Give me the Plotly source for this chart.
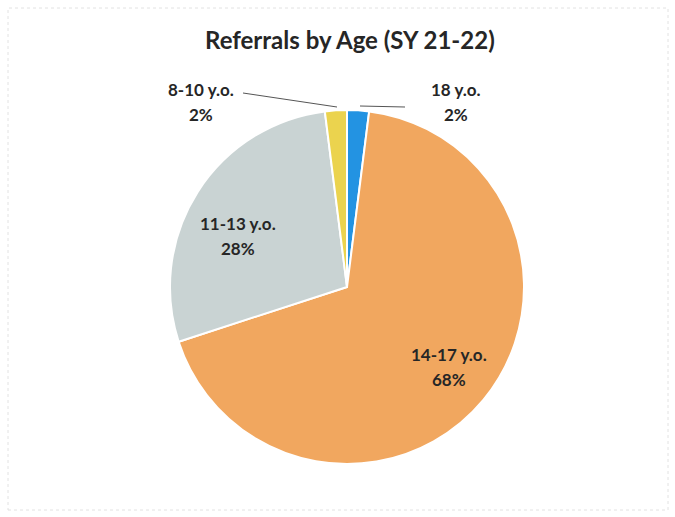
import plotly.graph_objects as go

# Referral counts by age group, school year 21-22 (percent of total)
age_groups = ["18 y.o.", "14-17 y.o.", "11-13 y.o.", "8-10 y.o."]
shares = [2, 68, 28, 2]
slice_colors = ["#2393E2", "#F1A75F", "#C9D3D3", "#EBD34E"]

W, H = 675, 517
CX, CY, R = 347, 287, 177  # pie centre and radius in pixels


def px(x):
    return x / W


def py(y):
    return 1 - y / H


fig = go.Figure(
    go.Pie(
        labels=age_groups,
        values=shares,
        sort=False,
        direction="clockwise",
        rotation=0,
        marker=dict(colors=slice_colors, line=dict(color="white", width=2)),
        textinfo="none",
        hoverinfo="label+percent",
        domain=dict(x=[px(CX - R), px(CX + R)], y=[py(CY + R), py(CY - R)]),
        showlegend=False,
    )
)

# Label anchor points (pixel centre of each two-line label)
label_xy = {
    "18 y.o.": (456, 102),
    "14-17 y.o.": (449, 367),
    "11-13 y.o.": (238, 236),
    "8-10 y.o.": (201, 102),
}
LINE_GAP = 25
label_font = dict(family="Lato", size=17, color="#262626")

total = sum(shares)
annotations = []
for name, val in zip(age_groups, shares):
    x, y = label_xy[name]
    for text, dy in ((name, -LINE_GAP / 2), (f"{round(100 * val / total)}%", LINE_GAP / 2)):
        annotations.append(
            dict(
                x=px(x), y=py(y + dy), xref="paper", yref="paper",
                text=f"<b>{text}</b>",
                showarrow=False, xanchor="center", yanchor="middle",
                font=label_font,
            )
        )

annotations.append(
    dict(
        x=px(350), y=py(40), xref="paper", yref="paper",
        text="<b>Referrals by Age (SY 21-22)</b>", showarrow=False,
        xanchor="center", yanchor="middle",
        font=dict(family="Lato", size=24, color="#262626"),
    )
)

# Leader lines for the two small outer labels
leaders = [
    ((360, 106), (405, 107)),
    ((337, 107), (243, 93)),
]
shapes = [
    dict(type="line", xref="paper", yref="paper",
         x0=px(a[0]), y0=py(a[1]), x1=px(b[0]), y1=py(b[1]),
         line=dict(color="#555555", width=1))
    for a, b in leaders
]
# Faint chart-area frame
shapes.append(
    dict(type="rect", xref="paper", yref="paper",
         x0=px(8), y0=py(510), x1=px(668), y1=py(8),
         line=dict(color="#e2e2e2", width=1, dash="dot"))
)

fig.update_layout(
    width=W, height=H,
    margin=dict(l=0, r=0, t=0, b=0),
    paper_bgcolor="white",
    plot_bgcolor="white",
    annotations=annotations,
    shapes=shapes,
)

fig.write_html("out.html")
